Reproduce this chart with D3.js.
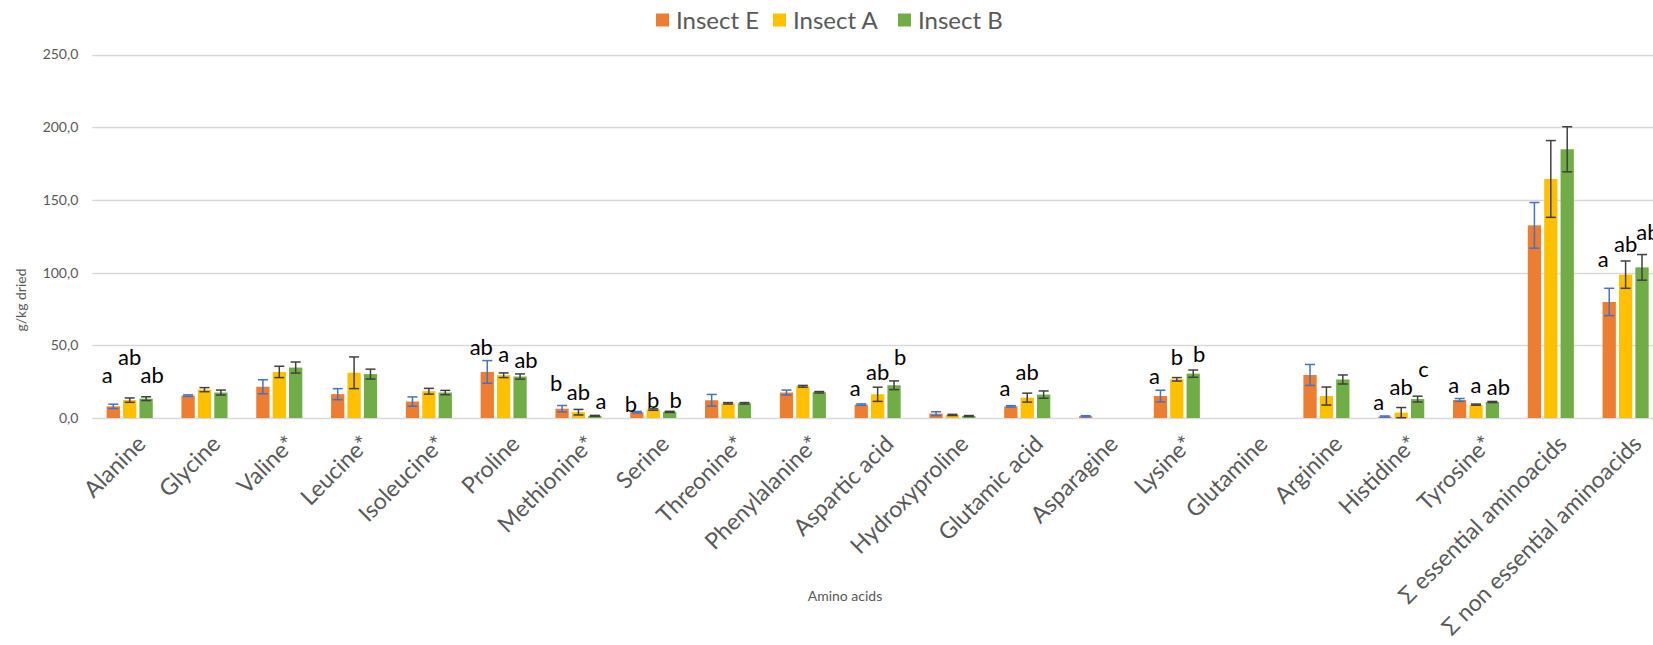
<!DOCTYPE html>
<html>
<head>
<meta charset="utf-8">
<script src="https://cdn.jsdelivr.net/npm/d3@7"></script>
<style>
  html, body { margin: 0; padding: 0; background: #ffffff; overflow: hidden; }
  svg { display: block; font-family: Lato, "Open Sans", sans-serif; }
</style>
</head>
<body>
<svg id="chart" width="1653" height="645"></svg>
<script>
// Amino acid composition (g/kg dried) of three insect meals
const categories = [
  "Alanine", "Glycine", "Valine*", "Leucine*", "Isoleucine*", "Proline",
  "Methionine*", "Serine", "Threonine*", "Phenylalanine*", "Aspartic acid",
  "Hydroxyproline", "Glutamic acid", "Asparagine", "Lysine*", "Glutamine",
  "Arginine", "Histidine*", "Tyrosine*", "Σ essential aminoacids",
  "Σ non essential aminoacids"
];
const seriesNames = ["Insect E", "Insect A", "Insect B"];

const insectE = [8.0, 15.4, 21.5, 16.4, 11.3, 31.7, 6.4, 4.0, 12.2, 17.5, 9.2, 3.0, 8.0, 1.2, 15.1, 0, 29.6, 1.0, 12.4, 132.5, 79.8];
const insectA = [12.3, 19.5, 31.7, 31.1, 18.4, 29.4, 4.0, 5.8, 10.1, 21.8, 16.3, 2.1, 14.0, 0, 26.6, 0, 15.1, 3.7, 9.2, 164.4, 98.6];
const insectB = [13.3, 17.5, 34.7, 30.2, 17.5, 28.5, 1.5, 4.2, 10.1, 17.7, 22.5, 1.4, 16.1, 0, 30.5, 0, 26.5, 13.0, 11.0, 184.8, 103.6];

// standard deviations (error bars)
const errE = [1.5, 0.5, 4.8, 3.8, 3.2, 7.8, 2.2, 0.5, 4.0, 1.7, 0.5, 1.3, 0.5, 0.4, 4.0, 0, 7.2, 0.4, 1.0, 15.7, 9.4];
const errA = [1.5, 1.4, 3.9, 10.9, 2.0, 1.6, 1.9, 0.5, 0.5, 0.6, 4.9, 0.4, 3.1, 0, 1.2, 0, 6.2, 3.5, 0.4, 26.4, 9.4];
const errB = [1.3, 1.7, 3.8, 3.4, 1.5, 1.8, 0.3, 0.4, 0.5, 0.5, 3.0, 0.3, 2.5, 0, 2.5, 0, 3.1, 2.0, 0.4, 15.5, 8.8];

// significance letters and the level (g/kg) each letter is set at
const lettersE = ["a", "", "", "", "", "ab", "b", "b", "", "", "a", "", "a", "", "a", "", "", "a", "a", "", "a"];
const lettersA = ["ab", "", "", "", "", "a", "ab", "b", "", "", "ab", "", "ab", "", "b", "", "", "ab", "a", "", "ab"];
const lettersB = ["ab", "", "", "", "", "ab", "a", "b", "", "", "b", "", "", "", "b", "", "", "c", "ab", "", "ab"];
const letterLevelE = [24.1, 0, 0, 0, 0, 43.1, 18.6, 3.9, 0, 0, 15.1, 0, 15.1, 0, 23.7, 0, 0, 5.3, 17.5, 0, 103.9];
const letterLevelA = [36.2, 0, 0, 0, 0, 38.5, 12.7, 6.7, 0, 0, 25.9, 0, 25.9, 0, 36.2, 0, 0, 16.1, 17.5, 0, 114.2];
const letterLevelB = [24.1, 0, 0, 0, 0, 34.2, 6.5, 6.7, 0, 0, 36.7, 0, 0, 0, 38.5, 0, 0, 28.2, 16.1, 0, 122.2];

const yTicks = [0, 50, 100, 150, 200, 250];

const colors = ["#ED7D31", "#FFC000", "#70AD47"];
const errColors = ["#4472C4", "#404040", "#404040"];

const rows = categories.map((c, i) => ({
  category: c,
  values: [insectE[i], insectA[i], insectB[i]],
  errors: [errE[i], errA[i], errB[i]],
  letters: [lettersE[i], lettersA[i], lettersB[i]],
  levels: [letterLevelE[i], letterLevelA[i], letterLevelB[i]]
}));

const svg = d3.select("#chart");
const plot = { left: 92.3, right: 1663, top: 54.5, bottom: 418 };

const x0 = d3.scaleBand()
  .domain(categories)
  .range([plot.left, plot.right])
  .paddingInner(0.384)
  .paddingOuter(0.192);

const x1 = d3.scaleBand()
  .domain(d3.range(seriesNames.length))
  .range([0, x0.bandwidth()])
  .paddingInner(0.19);

const y = d3.scaleLinear().domain([0, 250]).range([plot.bottom, plot.top]);

const fmt = v => d3.format(".1f")(v).replace(".", ",");

// horizontal gridlines
svg.append("g")
  .selectAll("line")
  .data(yTicks)
  .join("line")
  .attr("x1", plot.left)
  .attr("x2", plot.right)
  .attr("y1", d => Math.round(y(d)) + 0.5)
  .attr("y2", d => Math.round(y(d)) + 0.5)
  .attr("stroke", "#D9D9D9")
  .attr("stroke-width", 1.3);

// y axis labels
const yAxis = d3.axisLeft(y).tickValues(yTicks).tickFormat(fmt).tickSize(0).tickPadding(14);
const gy = svg.append("g").attr("transform", `translate(${plot.left},0)`).call(yAxis);
gy.select(".domain").remove();
gy.selectAll("text")
  .attr("fill", "#595959")
  .style("font-family", "Lato, sans-serif")
  .style("font-size", "14px");

// bars
const groups = svg.append("g")
  .selectAll("g")
  .data(rows)
  .join("g")
  .attr("transform", d => `translate(${x0(d.category)},0)`);

groups.selectAll("rect")
  .data(d => d.values.map((v, s) => ({ v, s })))
  .join("rect")
  .filter(d => d.v > 0)
  .attr("x", d => x1(d.s))
  .attr("width", x1.bandwidth())
  .attr("y", d => y(d.v))
  .attr("height", d => y(0) - y(d.v))
  .attr("fill", d => colors[d.s]);

// error bars
const capHalf = 5;
const eb = groups.selectAll("g.err")
  .data(d => d.values.map((v, s) => ({ v, e: d.errors[s], s })).filter(o => o.v > 0))
  .join("g")
  .attr("class", "err")
  .attr("stroke", d => errColors[d.s])
  .attr("stroke-width", 1.5);

eb.append("line")
  .attr("x1", d => x1(d.s) + x1.bandwidth() / 2)
  .attr("x2", d => x1(d.s) + x1.bandwidth() / 2)
  .attr("y1", d => y(d.v + d.e))
  .attr("y2", d => y(Math.max(0, d.v - d.e)));
eb.append("line")
  .attr("x1", d => x1(d.s) + x1.bandwidth() / 2 - capHalf)
  .attr("x2", d => x1(d.s) + x1.bandwidth() / 2 + capHalf)
  .attr("y1", d => y(d.v + d.e))
  .attr("y2", d => y(d.v + d.e));
eb.append("line")
  .attr("x1", d => x1(d.s) + x1.bandwidth() / 2 - capHalf)
  .attr("x2", d => x1(d.s) + x1.bandwidth() / 2 + capHalf)
  .attr("y1", d => y(Math.max(0, d.v - d.e)))
  .attr("y2", d => y(Math.max(0, d.v - d.e)));

// significance letters
const spread = 6;
groups.selectAll("text.letter")
  .data(d => d.letters.map((t, s) => ({ t, s, level: d.levels[s] })).filter(o => o.t))
  .join("text")
  .attr("class", "letter")
  .attr("x", d => x1(d.s) + x1.bandwidth() / 2 + (d.s - 1) * spread)
  .attr("y", d => y(d.level))
  .attr("text-anchor", "middle")
  .attr("fill", "#000000")
  .style("font-size", "22px")
  .text(d => d.t);

// category labels
svg.append("g")
  .selectAll("text")
  .data(categories)
  .join("text")
  .attr("transform", d => `translate(${x0(d) + x0.bandwidth() / 2 + 6},${plot.bottom + 16}) rotate(-45)`)
  .attr("text-anchor", "end")
  .attr("dy", "0.7em")
  .attr("fill", "#595959")
  .style("font-size", "23px")
  .text(d => d);

// axis titles
svg.append("text")
  .attr("transform", "translate(26,300) rotate(-90)")
  .attr("text-anchor", "middle")
  .attr("fill", "#595959")
  .style("font-size", "14px")
  .text("g/kg dried");

svg.append("text")
  .attr("x", 845)
  .attr("y", 601)
  .attr("text-anchor", "middle")
  .attr("fill", "#595959")
  .style("font-size", "14px")
  .text("Amino acids");

// legend
const legend = svg.append("g").attr("transform", "translate(656,20)");
const legendX = [0, 117, 242];
const li = legend.selectAll("g")
  .data(seriesNames)
  .join("g")
  .attr("transform", (d, i) => `translate(${legendX[i]},0)`);
li.append("rect")
  .attr("x", 0).attr("y", -6.5)
  .attr("width", 13).attr("height", 13)
  .attr("fill", (d, i) => colors[i]);
li.append("text")
  .attr("x", 20)
  .attr("dy", "0.36em")
  .attr("fill", "#595959")
  .style("font-size", "24px")
  .text(d => d);
</script>
</body>
</html>
